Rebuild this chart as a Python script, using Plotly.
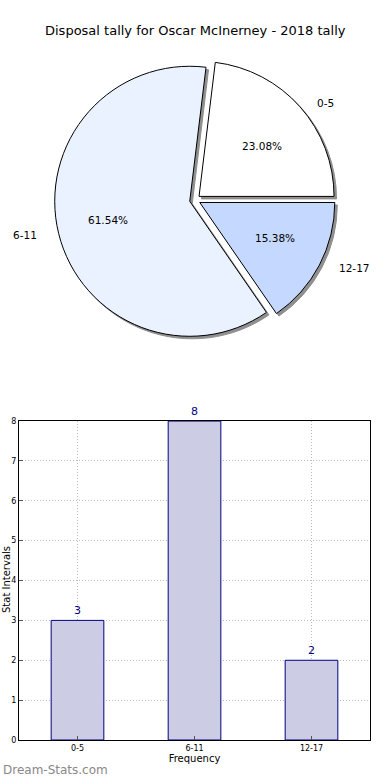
import math
import plotly.graph_objects as go

# ---- data ----
categories = ["0-5", "6-11", "12-17"]
counts = [3, 8, 2]
pie_colors = ["#FFFFFF", "#EAF1FF", "#C5D8FF"]
y_ticks = [0, 1, 2, 3, 4, 5, 6, 7, 8]

title_text = "Disposal tally for Oscar McInerney - 2018 tally"
FONT = "DejaVu Sans"

# ---- layout geometry (pixels in a 390x780 page) ----
ML, MR, MT, MB = 19, 20, 0, 40
PW, PH = 390 - ML - MR, 780 - MT - MB          # plot area size
CX, CY = 195, 200                                # pie centre (px)
RX, RY = 141, 128                                # text placement radii (px)
PULL = 0.04
PULL_PX = 5.3


def px_to_paper(x, y):
    return (x - ML) / PW, (PH + MT - y) / PH


# first slice should begin at 3 o'clock and run counter-clockwise
total = sum(counts)
rotation = 90 - 360 * counts[0] / total

pull = [PULL] * len(counts)
pie_dom_x = [0.0514, 0.9514]
pie_dom_y = [0.54, 0.9195]
sx, sy = 2.5 / PW, 2.5 / PH

fig = go.Figure()

# shadow
fig.add_trace(go.Pie(
    labels=categories, values=counts, sort=False, direction="counterclockwise",
    rotation=rotation, pull=pull, textinfo="none", hoverinfo="skip", automargin=False,
    marker=dict(colors=["#8f8f8f"] * 3, line=dict(color="#8f8f8f", width=1)),
    domain=dict(x=[pie_dom_x[0] + sx, pie_dom_x[1] + sx], y=[pie_dom_y[0] - sy, pie_dom_y[1] - sy]),
    showlegend=False,
))
# main pie
fig.add_trace(go.Pie(
    labels=categories, values=counts, sort=False, direction="counterclockwise",
    rotation=rotation, pull=pull, textinfo="none", hoverinfo="skip", automargin=False,
    marker=dict(colors=pie_colors, line=dict(color="black", width=1)),
    domain=dict(x=pie_dom_x, y=pie_dom_y), showlegend=False,
))

# bars
fig.add_trace(go.Bar(
    x=categories, y=counts, width=0.45, text=[str(c) for c in counts],
    textposition="outside", cliponaxis=False,
    textfont=dict(family=FONT, size=11, color="#000080"),
    marker=dict(color="#CCCCE5", line=dict(color="#000080", width=1)),
    showlegend=False, hoverinfo="skip",
))

# pie labels (category outside at 1.1 r, percentage inside at 0.6 r)
annotations = []
cum = 0.0
for cat, v in zip(categories, counts):
    frac = v / total
    mid = (cum + frac / 2) * 2 * math.pi
    cum += frac
    ux, uy = math.cos(mid), math.sin(mid)
    lx, ly = px_to_paper(CX + ux * (1.1 * RX + PULL_PX), CY - uy * (1.1 * RY + PULL_PX))
    annotations.append(dict(
        text=cat, xref="paper", yref="paper", x=lx, y=ly,
        xanchor="left" if ux > 0 else "right", yanchor="middle", showarrow=False,
        font=dict(size=10.5, family=FONT, color="black")))
    tx, ty = px_to_paper(CX + ux * (0.6 * RX + PULL_PX), CY - uy * (0.6 * RY + PULL_PX))
    annotations.append(dict(
        text=f"{frac * 100:.2f}%", xref="paper", yref="paper", x=tx, y=ty,
        xanchor="center", yanchor="middle", showarrow=False,
        font=dict(size=10.5, family=FONT, color="black")))

tx, ty = px_to_paper(195, 30)
annotations.append(dict(text=title_text, xref="paper", yref="paper", x=tx, y=ty,
                        xanchor="center", yanchor="middle", showarrow=False,
                        font=dict(size=13, family=FONT, color="black")))
tx, ty = px_to_paper(6, 580)
annotations.append(dict(text="Stat Intervals", xref="paper", yref="paper", x=tx, y=ty,
                        xanchor="center", yanchor="middle", textangle=-90, showarrow=False,
                        font=dict(size=10, family=FONT, color="black")))
tx, ty = px_to_paper(1, 770)
annotations.append(dict(text="Dream-Stats.com", xref="paper", yref="paper", x=tx, y=ty,
                        xanchor="left", yanchor="middle", showarrow=False,
                        font=dict(size=12, family=FONT, color="#888888")))

grid_style = dict(showgrid=True, gridcolor="#bbbbbb", griddash="1px,2px", gridwidth=1)

fig.update_layout(
    width=390, height=780,
    margin=dict(l=ML, r=MR, t=MT, b=MB, autoexpand=False),
    paper_bgcolor="white", plot_bgcolor="white",
    font=dict(family=FONT, color="black"),
    xaxis=dict(
        domain=[0, 1], range=[-0.5, 2.5], type="category",
        **grid_style,
        showline=True, linecolor="black", linewidth=1, mirror=True,
        ticks="inside", ticklen=4, tickcolor="#555",
        tickfont=dict(size=8, family=FONT),
        title=dict(text="Frequency", font=dict(size=10, family=FONT), standoff=2),
        automargin=False,
    ),
    yaxis=dict(
        domain=[0, 0.431], range=[0, 8], tickvals=y_ticks,
        **grid_style,
        zeroline=False,
        showline=True, linecolor="black", linewidth=1, mirror=True,
        ticks="inside", ticklen=4, tickcolor="#555",
        tickfont=dict(size=8, family=FONT),
        automargin=False,
    ),
    annotations=annotations,
)

fig.write_html("out.html", config={"displayModeBar": False},
               post_script="document.body.style.margin='0';")
